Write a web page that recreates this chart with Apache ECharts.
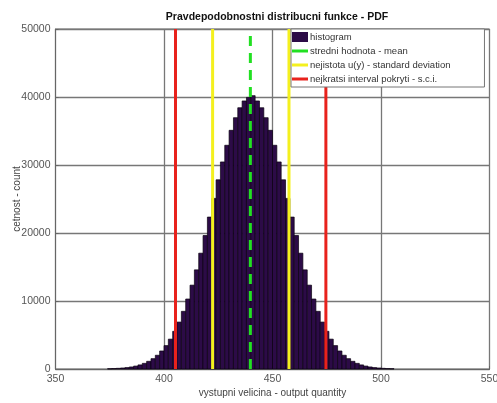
<!DOCTYPE html>
<html>
<head>
<meta charset="utf-8">
<script src="https://cdn.jsdelivr.net/npm/echarts@6/dist/echarts.min.js"></script>
<style>
html,body{margin:0;padding:0;background:#fff;}
#chart{width:497px;height:403px;}
</style>
</head>
<body>
<div id="chart"></div>
<script>
// ---- data ----
const titleText = 'Pravdepodobnostni distribucni funkce - PDF';
const xName = 'vystupni velicina - output quantity';
const yName = 'cetnost - count';
const xTicks = [350, 400, 450, 500, 550];
const yTicks = [0, 10000, 20000, 30000, 40000, 50000];
const binStart = 374;
const binWidth = 2;
const counts = [
  40, 65, 100, 150, 210, 300, 430, 600, 830, 1130,
  1520, 2020, 2650, 3440, 4390, 5540, 6900, 8480, 10290, 12330,
  14580, 17030, 19630, 22340, 25090, 27820, 30450, 32900, 35100, 36960,
  38420, 39420, 39940, 40200, 39420, 38420, 36960, 35100, 32900, 30450,
  27820, 25090, 22340, 19630, 17030, 14580, 12330, 10290, 8480, 6900,
  5540, 4390, 3440, 2650, 2020, 1520, 1130, 830, 600, 430,
  300, 210, 150, 100, 65, 40
];
const meanValue = [439.8];
const sdBounds = [422.4, 457.6];
const sciBounds = [405.3, 474.6];
const legendNames = [
  'histogram',
  'stredni hodnota - mean',
  'nejistota u(y) - standard deviation',
  'nejkratsi interval pokryti - s.c.i.'
];

// ---- build chart ----
const FONT = 'Liberation Sans, Arial, sans-serif';
const histData = counts.map((c, i) => [binStart + i * binWidth, binStart + (i + 1) * binWidth, c]);
const yTop = yTicks[yTicks.length - 1];
const lineIcon = 'path://M0,0L16,0L16,3L0,3Z';

function vline(name, x, color, type) {
  return {
    name: name,
    type: 'line',
    data: [[x, 0], [x, yTop]],
    symbol: 'none',
    silent: true,
    z: 3,
    color: color,
    itemStyle: { color: color },
    lineStyle: { color: color, width: 3, type: type },
    animation: false
  };
}

const series = [{
  name: legendNames[0],
  type: 'custom',
  data: histData,
  encode: { x: [0, 1], y: 2 },
  color: '#2c0b47',
  itemStyle: { color: '#2c0b47' },
  z: 2,
  renderItem: function (params, api) {
    const p0 = api.coord([api.value(0), api.value(2)]);
    const p1 = api.coord([api.value(1), 0]);
    return {
      type: 'rect',
      shape: { x: p0[0], y: p0[1], width: p1[0] - p0[0], height: p1[1] - p0[1] },
      style: { fill: '#2c0b47', stroke: '#0a0010', lineWidth: 0.7 }
    };
  },
  animation: false
}];
meanValue.forEach(v => series.push(vline(legendNames[1], v, '#22e022', [10, 7])));
sdBounds.forEach(v => series.push(vline(legendNames[2], v, '#f4f01e', 'solid')));
sciBounds.forEach(v => series.push(vline(legendNames[3], v, '#e8221c', 'solid')));

const chart = echarts.init(document.getElementById('chart'), null, { renderer: 'canvas' });
chart.setOption({
  animation: false,
  backgroundColor: '#fff',
  title: {
    text: titleText,
    left: 272, textAlign: 'center',
    top: 7,
    textStyle: { fontFamily: FONT, fontSize: 10.5, fontWeight: 'bold', color: '#111' }
  },
  grid: {
    left: 55.5, right: 7.5, top: 29, bottom: 34,
    containLabel: false,
    outerBoundsMode: 'none',
    show: true, borderColor: '#666', borderWidth: 1, backgroundColor: 'transparent'
  },
  legend: {
    orient: 'vertical',
    left: 291, top: 29,
    z: 10,
    padding: [3, 34, 3, 1],
    itemGap: 4,
    itemWidth: 16, itemHeight: 10,
    backgroundColor: '#fff',
    borderColor: '#777', borderWidth: 1,
    symbolKeepAspect: true,
    data: legendNames.map((n, i) => ({ name: n, icon: i === 0 ? 'rect' : lineIcon })),
    textStyle: { fontFamily: FONT, fontSize: 9.5, color: '#333', padding: [0, 0, 0, -3] },
    selectedMode: false
  },
  xAxis: {
    type: 'value',
    min: xTicks[0], max: xTicks[xTicks.length - 1], interval: 50,
    name: xName, nameLocation: 'middle', nameGap: 19,
    nameMoveOverlap: false,
    nameTextStyle: { fontFamily: FONT, fontSize: 10, color: '#444' },
    axisLine: { show: true, lineStyle: { color: '#666' } },
    axisTick: { show: true, inside: true, length: 3, lineStyle: { color: '#666' } },
    axisLabel: { fontFamily: FONT, fontSize: 10.5, color: '#555', margin: 5, formatter: v => String(v) },
    splitLine: { show: true, lineStyle: { color: '#777', width: 1.3 } }
  },
  yAxis: {
    type: 'value',
    min: yTicks[0], max: yTop, interval: 10000,
    name: yName, nameLocation: 'middle', nameGap: 33,
    nameMoveOverlap: false,
    nameTextStyle: { fontFamily: FONT, fontSize: 10, color: '#444' },
    axisLine: { show: true, lineStyle: { color: '#666' } },
    axisTick: { show: true, inside: true, length: 3, lineStyle: { color: '#666' } },
    axisLabel: { fontFamily: FONT, fontSize: 10.5, color: '#555', margin: 5, formatter: v => String(v) },
    splitLine: { show: true, lineStyle: { color: '#777', width: 1.3 } }
  },
  series: series
});
</script>
</body>
</html>
